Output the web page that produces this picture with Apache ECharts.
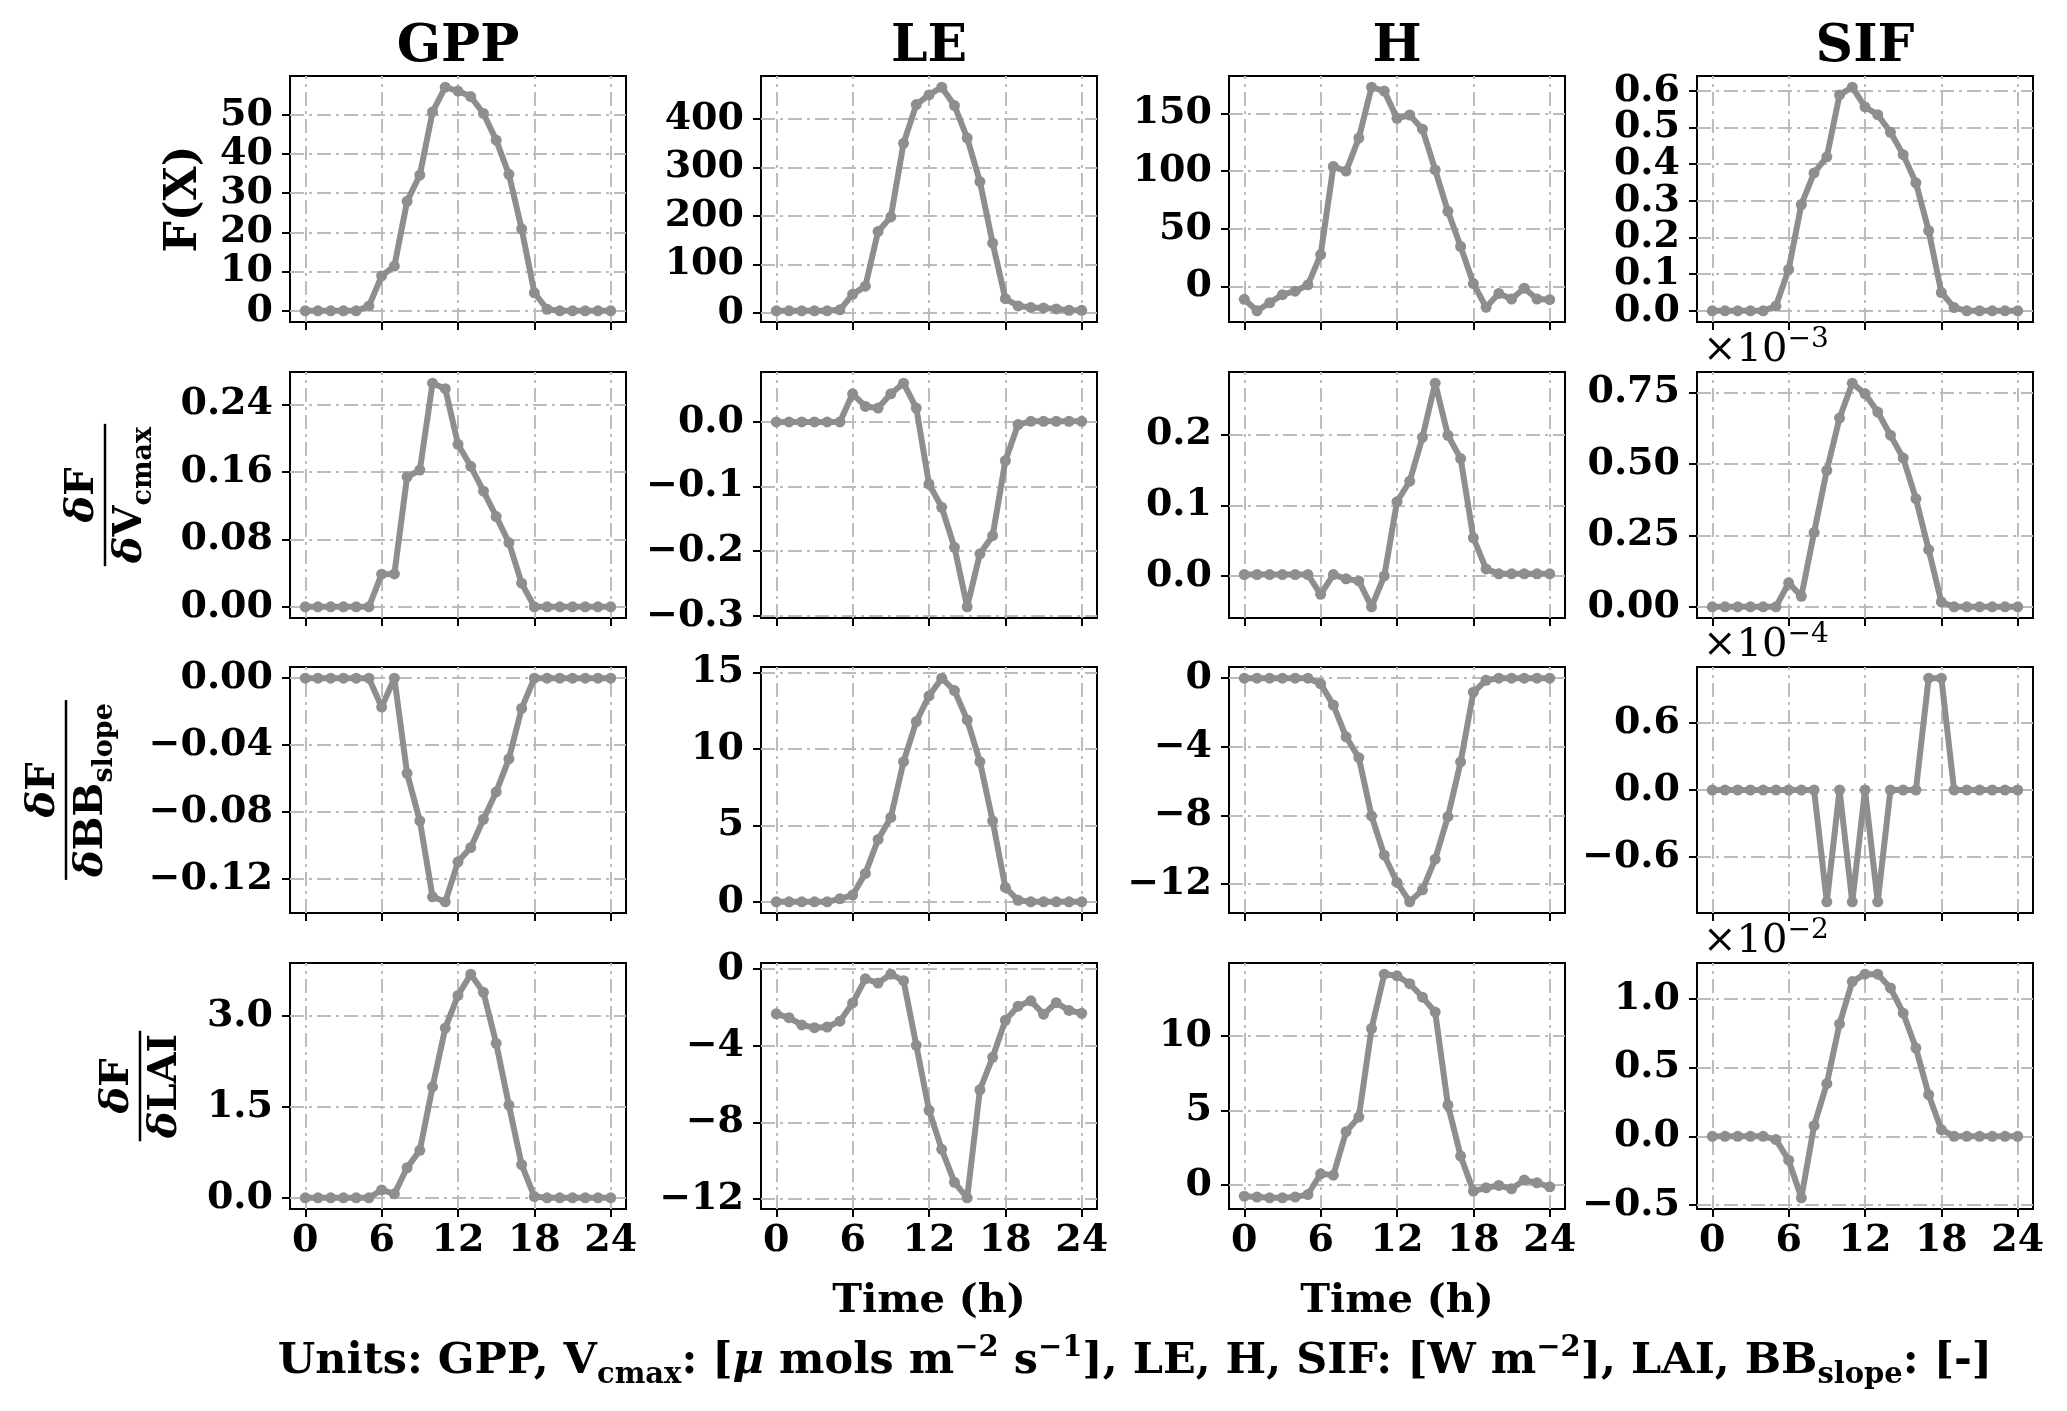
<!DOCTYPE html>
<html><head><meta charset="utf-8">
<script src="https://cdn.jsdelivr.net/npm/echarts@6/dist/echarts.min.js"></script>
<style>html,body{margin:0;padding:0;background:#fff}#c{width:2067px;height:1411px}</style>
</head><body><div id="c"></div>
<script>
// ---------------- DATA ----------------
const hours = [0,1,2,3,4,5,6,7,8,9,10,11,12,13,14,15,16,17,18,19,20,21,22,23,24];
const colNames = ['GPP','LE','H','SIF'];
const xTickLabels = ['0','6','12','18','24'];

// Row 1: F(X)
const gppF = [0,0,0,0,0,1.2,8.9,11.4,27.9,34.6,50.7,57.0,56.0,54.6,50.3,43.5,34.8,20.9,4.6,0.4,0,0,0,0,0];
const leF  = [4,4,4,4,4,6,38,55,168,198,350,430,450,466,428,361,271,144,29,14,11,10,8,5,5];
const hF   = [-11,-21,-14,-7,-4,1.5,27.6,104,100,128.6,172.7,169.3,145.7,148.6,136.3,101,65.2,34.7,2.6,-17.9,-6,-10.8,-1.4,-10.8,-11.4];
const sifF = [0,0,0,0,0,0.013,0.113,0.29,0.376,0.42,0.589,0.61,0.556,0.535,0.487,0.426,0.349,0.219,0.05,0.009,0,0,0,0,0];
// Row 2: dF/dVcmax
const gppV = [0,0,0,0,0,0,0.0387,0.039,0.154,0.162,0.265,0.2585,0.1926,0.1665,0.137,0.107,0.076,0.028,0,0,0,0,0,0,0];
const leV  = [0,0,0,0,0,0,0.0436,0.024,0.0215,0.0436,0.06,0.0215,-0.096,-0.132,-0.194,-0.286,-0.204,-0.176,-0.06,-0.004,0.001,0.001,0.001,0.001,0.001];
const hV   = [0.002,0.002,0.002,0.002,0.002,0.002,-0.026,0.002,-0.004,-0.007,-0.0436,0,0.105,0.134,0.196,0.2726,0.199,0.166,0.054,0.01,0.003,0.003,0.003,0.003,0.003];
const sifV = [0,0,0,0,0,0,0.0838,0.037,0.26,0.477,0.66,0.782,0.745,0.681,0.6,0.52,0.378,0.2,0.017,0,0,0,0,0,0]; // x1e-3
// Row 3: dF/dBBslope
const gppB = [0,0,0,0,0,0,-0.0173,0,-0.0569,-0.0853,-0.1307,-0.1337,-0.1098,-0.1013,-0.0844,-0.068,-0.0482,-0.0181,0,0,0,0,0,0,0];
const leB  = [0,0,0,0,0,0.2,0.44,1.86,4.08,5.52,9.17,11.79,13.47,14.63,13.82,11.9,9.17,5.3,0.94,0.1,0,0,0,0,0];
const hB   = [0,0,0,0,0,0,-0.33,-1.57,-3.42,-4.64,-8.04,-10.33,-11.92,-13.05,-12.35,-10.56,-8.08,-4.89,-0.82,-0.12,0,0,0,0,0];
const sifB = [0,0,0,0,0,0,0,0,0,-1.0,0,-1.0,0,-1.0,0,0,0,1.0,1.0,0,0,0,0,0,0]; // x1e-4
// Row 4: dF/dLAI
const gppL = [0,0,0,0,0,0,0.13,0.066,0.496,0.783,1.83,2.80,3.34,3.69,3.39,2.55,1.53,0.546,0.02,0,0,0,0,0,0];
const leL  = [-2.33,-2.53,-2.91,-3.05,-3.02,-2.71,-1.76,-0.5,-0.72,-0.26,-0.6,-3.97,-7.36,-9.4,-11.12,-11.93,-6.29,-4.6,-2.67,-1.93,-1.65,-2.35,-1.75,-2.15,-2.3];
const hL   = [-0.74,-0.8,-0.85,-0.85,-0.8,-0.63,0.76,0.67,3.58,4.56,10.5,14.14,14.03,13.5,12.6,11.6,5.37,1.95,-0.4,-0.18,-0.02,-0.25,0.34,0.16,-0.11];
const sifL = [0,0,0,0,0,-0.024,-0.174,-0.448,0.077,0.383,0.818,1.126,1.18,1.18,1.08,0.896,0.642,0.303,0.048,0,0,0,0,0,0]; // x1e-2

// y tick labels per panel (row-major)
const yTickLabels = [
  ['0','10','20','30','40','50'], ['0','100','200','300','400'], ['0','50','100','150'], ['0.0','0.1','0.2','0.3','0.4','0.5','0.6'],
  ['0.00','0.08','0.16','0.24'], ['−0.3','−0.2','−0.1','0.0'], ['0.0','0.1','0.2'], ['0.00','0.25','0.50','0.75'],
  ['−0.12','−0.08','−0.04','0.00'], ['0','5','10','15'], ['−12','−8','−4','0'], ['−0.6','0.0','0.6'],
  ['0.0','1.5','3.0'], ['−12','−8','−4','0'], ['0','5','10'], ['−0.5','0.0','0.5','1.0']
];
// scientific offset exponents (SIF column, rows 2-4)
const offsetExp = [null, '−3', '−4', '−2'];

const panelData = [
  gppF, leF, hF, sifF,
  gppV, leV, hV, sifV,
  gppB, leB, hB, sifB,
  gppL, leL, hL, sifL
];

// ---------------- LAYOUT / STYLE ----------------
const FONT = '"DejaVu Serif", "Liberation Serif", serif';
const GRAY = '#8e8e8e';
const colLeft = [290, 761, 1229, 1697];
const colW = 336;
const rowTop = [76, 372, 667, 963];
const rowH = 246;
const toNum = s => Number(s.replace('−', '-'));
const xTicks = xTickLabels.map(Number);

const grids = [], xAxes = [], yAxes = [], series = [];
function labelStyle(extra) {
  return Object.assign({fontFamily: FONT, fontWeight: 'bold', fontSize: 38, color: '#000',
    showMinLabel: true, showMaxLabel: true, hideOverlap: false, interval: 0}, extra);
}
for (let p = 0; p < 16; p++) {
  const r = Math.floor(p / 4), c = p % 4;
  const vals = panelData[p];
  const dmin = Math.min(...vals), dmax = Math.max(...vals);
  const rng = dmax - dmin;
  const yMin = dmin - 0.05 * rng, yMax = dmax + 0.05 * rng;
  const yT = yTickLabels[p].map(toNum);
  const fmt = v => { const i = yT.findIndex(t => Math.abs(t - v) < 1e-9); return i >= 0 ? yTickLabels[p][i] : ''; };
  const evenT = yT.filter((_, i) => i % 2 === 0), oddT = yT.filter((_, i) => i % 2 === 1);
  grids.push({left: colLeft[c], top: rowTop[r], width: colW, height: rowH, show: true,
    borderColor: '#000', borderWidth: 2, backgroundColor: 'transparent', containLabel: false, outerBoundsMode: 'none'});
  xAxes.push({type: 'value', gridIndex: p, min: -1.2, max: 25.2,
    axisLine: {show: true, onZero: false, lineStyle: {color: '#000', width: 2}},
    axisTick: {show: true, customValues: xTicks, length: 8, lineStyle: {color: '#000', width: 2}},
    axisLabel: labelStyle({show: r === 3, customValues: xTicks, margin: 13}),
    splitLine: {show: false}});
  const ya = yAxes.length;
  // main y axis: line, all ticks, even-index labels
  yAxes.push({type: 'value', gridIndex: p, min: yMin, max: yMax,
    axisLine: {show: true, onZero: false, lineStyle: {color: '#000', width: 2}},
    axisTick: {show: true, customValues: yT, length: 8, lineStyle: {color: '#000', width: 2}},
    axisLabel: labelStyle({customValues: evenT, margin: 17, formatter: fmt}),
    splitLine: {show: false}});
  // overlay y axis: odd-index labels only (so dense labels are not auto-hidden)
  yAxes.push({type: 'value', gridIndex: p, min: yMin, max: yMax, position: 'left', offset: 0,
    axisLine: {show: false, onZero: false}, axisTick: {show: false},
    axisLabel: labelStyle({show: oddT.length > 0, customValues: oddT.length ? oddT : [yMin], margin: 17, formatter: fmt}),
    splitLine: {show: false}});
  series.push({type: 'line', xAxisIndex: p, yAxisIndex: ya, data: [], z: 1, silent: true, animation: false,
    markLine: {silent: true, symbol: ['none', 'none'], animation: false, label: {show: false},
      lineStyle: {color: '#bcbcbc', width: 2, type: [14, 5, 3, 5]},
      emphasis: {disabled: true},
      data: xTicks.map(v => ({xAxis: v})).concat(yT.map(v => ({yAxis: v})))}});
  series.push({type: 'line', xAxisIndex: p, yAxisIndex: ya, z: 5, silent: true, animation: false,
    data: hours.map((h, i) => [h, vals[i]]),
    symbol: 'circle', symbolSize: 11, showSymbol: true, showAllSymbol: true,
    lineStyle: {color: GRAY, width: 6}, itemStyle: {color: GRAY}});
}

// ---------------- TEXT ----------------
const graphics = [];
colNames.forEach((n, c) => graphics.push({type: 'text', x: colLeft[c] + colW / 2, y: 47,
  style: {text: n, fontFamily: FONT, fontWeight: 'bold', fontSize: 52, fill: '#000', align: 'center', verticalAlign: 'middle'}}));

// offset texts
for (let r = 1; r < 4; r++) {
  graphics.push({type: 'text', x: 1703, y: rowTop[r] - 21,
    style: {text: '×10{p|' + offsetExp[r] + '}', fontFamily: FONT, fontSize: 40, fill: '#000', align: 'left', verticalAlign: 'middle',
      rich: {p: {fontFamily: FONT, fontSize: 28, verticalAlign: 'top', lineHeight: 26}}, lineHeight: 50}});
}

// Row labels
graphics.push({type: 'text', x: 185, y: rowTop[0] + rowH / 2, rotation: Math.PI / 2,
  style: {text: 'F(X)', fontFamily: FONT, fontWeight: 'bold', fontSize: 44, fill: '#000', align: 'center', verticalAlign: 'middle'}});

const cv = document.createElement('canvas').getContext('2d');
function w(txt, font) { cv.font = font; return cv.measureText(txt).width; }
const FB = 'bold 40px ' + FONT, FI = 'italic bold 40px ' + FONT, FS = 'bold 27px ' + FONT;
const richFrac = {
  d: {fontFamily: FONT, fontWeight: 'bold', fontStyle: 'italic', fontSize: 40, lineHeight: 52},
  n: {fontFamily: FONT, fontWeight: 'bold', fontSize: 40, lineHeight: 52},
  s: {fontFamily: FONT, fontWeight: 'bold', fontSize: 27, lineHeight: 27, verticalAlign: 'bottom'}
};
const fracs = [
  {r: 1, x: 105, den: ['V', 'cmax']},
  {r: 2, x: 66, den: ['BB', 'slope']},
  {r: 3, x: 140, den: ['LAI', '']}
];
fracs.forEach(f => {
  const numW = w('δ', FI) + w('F', FB);
  const denW = w('δ', FI) + w(f.den[0], FB) + (f.den[1] ? w(f.den[1], FS) : 0);
  const L = Math.max(numW, denW) + 6;
  const denText = '{d|δ}{n|' + f.den[0] + '}' + (f.den[1] ? '{s|' + f.den[1] + '}' : '');
  graphics.push({type: 'group', x: f.x, y: rowTop[f.r] + rowH / 2, rotation: Math.PI / 2, children: [
    {type: 'line', shape: {x1: -L / 2, y1: 0, x2: L / 2, y2: 0}, style: {stroke: '#000', lineWidth: 2.5}},
    {type: 'text', x: 0, y: -22, style: {text: '{d|δ}{n|F}', rich: richFrac, align: 'center', verticalAlign: 'middle', fill: '#000'}},
    {type: 'text', x: 0, y: 26, style: {text: denText, rich: richFrac, align: 'center', verticalAlign: 'middle', fill: '#000'}}
  ]});
});

// x axis titles
[1, 2].forEach(c => graphics.push({type: 'text', x: colLeft[c] + colW / 2, y: 1302,
  style: {text: 'Time (h)', fontFamily: FONT, fontWeight: 'bold', fontSize: 40, fill: '#000', align: 'center', verticalAlign: 'middle'}}));

// units line
graphics.push({type: 'text', x: 1135, y: 1362,
  style: {
    text: '{b|Units: GPP, V}{s|cmax}{b|: [}{i|μ}{b| mols m}{p|−2}{b| s}{p|−1}{b|], LE, H, SIF: [W m}{p|−2}{b|], LAI, BB}{s|slope}{b|: [-]}',
    align: 'center', verticalAlign: 'middle', fill: '#000',
    rich: {
      b: {fontFamily: FONT, fontWeight: 'bold', fontSize: 43, lineHeight: 56},
      i: {fontFamily: FONT, fontWeight: 'bold', fontStyle: 'italic', fontSize: 43, lineHeight: 56},
      s: {fontFamily: FONT, fontWeight: 'bold', fontSize: 29, lineHeight: 28, verticalAlign: 'bottom'},
      p: {fontFamily: FONT, fontWeight: 'bold', fontSize: 29, lineHeight: 28, verticalAlign: 'top'}
    }
  }});

const chart = echarts.init(document.getElementById('c'), null, {renderer: 'canvas', width: 2067, height: 1411});
chart.setOption({
  backgroundColor: '#fff',
  animation: false,
  grid: grids, xAxis: xAxes, yAxis: yAxes, series: series,
  graphic: {elements: graphics}
});
</script>
</body></html>
